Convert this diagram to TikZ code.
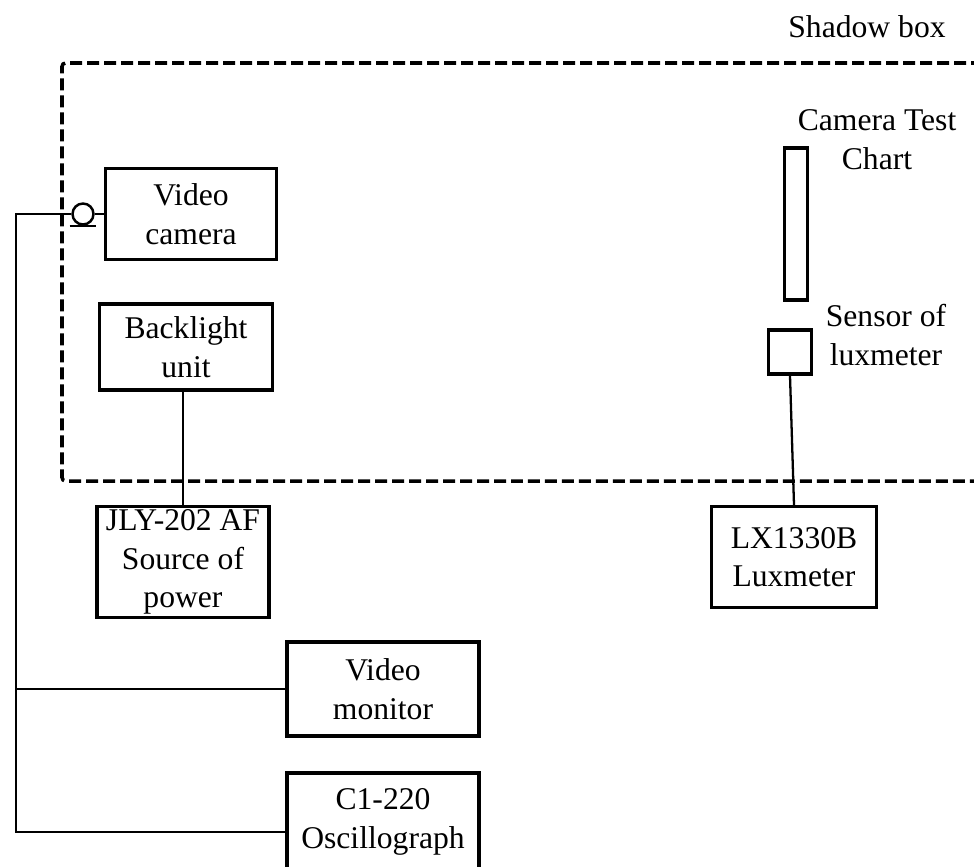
\documentclass[tikz,border=0pt]{standalone}
\usepackage{fontspec}
\setmainfont{Liberation Serif}
\usetikzlibrary{calc}

\begin{document}
\begin{tikzpicture}[x=0.02cm,y=-0.02cm,
  unit/.style={draw,line width=1.9pt,align=center,inner sep=1pt,
    font=\fontsize{18}{22}\selectfont},
  txt/.style={align=center,inner sep=0pt,font=\fontsize{18}{22}\selectfont},
  wire/.style={line width=1.3pt}]
\useasboundingbox (0,0) rectangle (974,866);

% shadow box
\draw[line width=2pt,dash pattern=on 0.24cm off 0.1cm,rounded corners=2pt]
  (1000,63) -- (62,63) -- (62,481) -- (1000,481);
\node[txt] (shadow) at (867,27) {Shadow box};

\node[unit,minimum width=3.42cm,minimum height=1.82cm] (cam) at (191,214) {Video\\camera};
\node[unit,minimum width=3.46cm,minimum height=1.72cm] (back) at (186,347) {Backlight\\unit};
\node[unit,minimum width=3.44cm,minimum height=2.22cm] (jly) at (183,562) {JLY-202 AF\\Source of\\power};
\node[unit,minimum width=3.84cm,minimum height=1.88cm] (mon) at (383,689) {Video\\monitor};
\node[unit,minimum width=3.84cm,minimum height=1.96cm] (osc) at (383,822) {C1-220\\Oscillograph};

\node[draw,line width=1.9pt,minimum width=0.46cm,minimum height=3.04cm,inner sep=0pt] (chart) at (796,224) {};
\node[txt] (charttxt) at (877,140) {Camera Test\\Chart};
\node[draw,line width=1.9pt,minimum width=0.86cm,minimum height=0.88cm,inner sep=0pt] (sensor) at (790,352) {};
\node[txt] (sensortxt) at (886,335) {Sensor of\\luxmeter};
\node[unit,minimum width=3.3cm,minimum height=2.02cm] (lx) at (794,557) {LX1330B\\Luxmeter};

% connector of the camera
\node[draw,circle,line width=1.4pt,minimum size=0.42cm,inner sep=0pt] (plug) at (83,214) {};
\coordinate (bus) at (16,214);

\draw[wire] (cam.west) -- (plug.east);
\draw[wire] ([xshift=-0.27cm]plug.south) -- ([xshift=0.27cm]plug.south);
\draw[wire] (plug.west) -- (bus) |- ([yshift=-0.2cm]osc.west);
\draw[wire] (bus |- mon.west) -- (mon.west);
\draw[wire] (jly.north |- back.south) -- (jly.north);
\draw[wire] (sensor.south) -- (lx.north);

\end{tikzpicture}
\end{document}
